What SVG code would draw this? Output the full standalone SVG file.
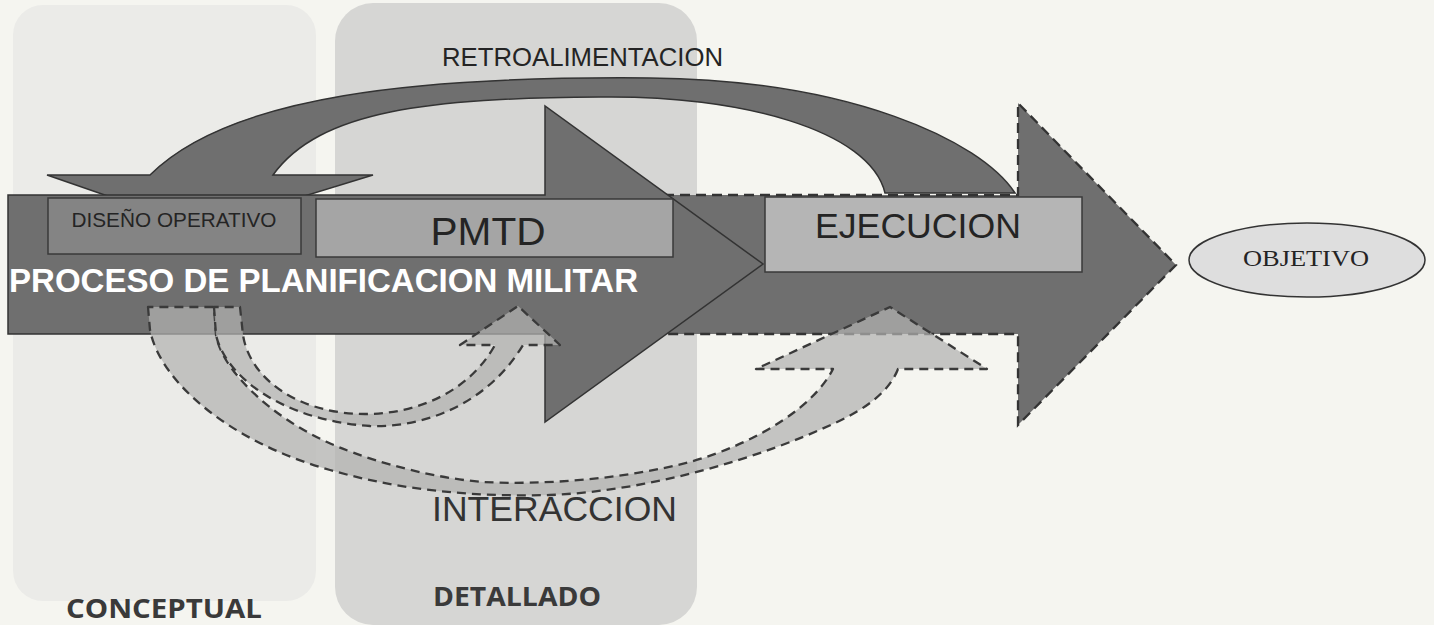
<svg xmlns="http://www.w3.org/2000/svg" width="1434" height="625" viewBox="0 0 1434 625">
  <style>
    .sans { font-family: "Liberation Sans", Arial, sans-serif; }
    .serif { font-family: "Liberation Serif", "Times New Roman", serif; }
    .calib { font-family: "Open Sans", "Noto Sans", sans-serif; font-weight: 700; fill: #3a3a3a; }
    .dark { fill: #6f6f6f; stroke: #333; stroke-width: 1.5; stroke-linejoin: miter; }
    .dashed { fill: #6f6f6f; stroke: #333; stroke-width: 2.3; stroke-dasharray: 10 6; }
    .band { fill: #b2b2b0; fill-opacity: 0.72; stroke: #3a3a3a; stroke-width: 2.3; stroke-dasharray: 9 6; stroke-linejoin: round; }
    .box { stroke: #3a3a3a; stroke-width: 1.5; }
    .lbl { fill: #242424; }
  </style>

  <rect x="0" y="0" width="1434" height="625" fill="#f5f5f0"/>

  <g id="panel-conceptual">
    <rect x="13" y="5" width="303" height="596" rx="30" ry="30" fill="#ebebe8"/>
    <text class="calib" x="66" y="618" font-size="27" textLength="196" lengthAdjust="spacingAndGlyphs">CONCEPTUAL</text>
  </g>
  <g id="panel-detallado">
    <rect x="335" y="3" width="362" height="622" rx="38" ry="38" fill="#d6d6d4"/>
    <text class="calib" x="433" y="606" font-size="27" textLength="168" lengthAdjust="spacingAndGlyphs">DETALLADO</text>
  </g>

  <g id="connectors">
    <g id="retroalimentacion">
      <path class="dark" stroke-width="1.2" fill="#6a6a6a" d="M1015,193 C980,140 850,80 650,78 C420,76 230,95 150,175 L47,175 L200,228 L373,175 L273,175 C320,110 430,98 600,97 C740,95 870,130 885,193 Z"/>
      <text class="sans lbl" x="442" y="66" font-size="25" textLength="281" lengthAdjust="spacingAndGlyphs">RETROALIMENTACION</text>
    </g>
  </g>

  <g id="proceso">
    <path class="dashed" d="M600,195 L1018,195 L1018,103 L1176,265 L1018,425 L1018,334 L600,334 Z"/>
    <path class="dark" d="M8,195 L545,195 L545,106 L763,264 L545,422 L545,334 L8,334 Z"/>
  </g>

  <g id="diseno-operativo">
    <rect class="box" x="48" y="198" width="253" height="56" fill="#848484"/>
    <text class="sans lbl" x="174" y="227" font-size="19.5" text-anchor="middle" textLength="205" lengthAdjust="spacingAndGlyphs">DISEÑO OPERATIVO</text>
  </g>
  <g id="pmtd">
    <rect class="box" x="316" y="199" width="357" height="58" fill="#a5a5a5"/>
    <text class="sans lbl" x="488" y="245" font-size="38" text-anchor="middle" textLength="115" lengthAdjust="spacingAndGlyphs">PMTD</text>
  </g>
  <g id="ejecucion">
    <rect class="box" x="765" y="197" width="317" height="75" fill="#b5b5b5"/>
    <text class="sans lbl" x="918" y="238" font-size="35" text-anchor="middle" textLength="206" lengthAdjust="spacingAndGlyphs">EJECUCION</text>
  </g>

  <g id="proceso-label">
    <text class="sans" x="9" y="292" font-size="34" font-weight="700" fill="#ffffff" textLength="629" lengthAdjust="spacingAndGlyphs">PROCESO DE PLANIFICACION MILITAR</text>
  </g>

  <g id="interaccion">
    <path class="band" d="M148,307 L150,330 C160,382 230,442 330,470 C400,490 470,497 550,495 C650,491 760,458 835,423 C868,408 890,390 898,369 L987,369 L890,307 L756,369 L833,369 C815,405 760,442 690,462 C620,480 540,485 483,482 C420,477 355,455 327,442 C270,416 222,370 216,335 L214,307 Z"/>
    <path class="band" d="M214,307 L216,335 C225,375 280,420 370,426 C430,428 490,400 523,345 L560,345 L518,306 L460,345 L495,345 C470,390 420,414 365,414 C300,414 250,380 243,335 L240,307 Z"/>
    <text class="sans" x="432" y="521" font-size="35" fill="#333" textLength="245" lengthAdjust="spacingAndGlyphs">INTERACCION</text>
  </g>

  <g id="objetivo">
    <ellipse cx="1307" cy="260" rx="118" ry="37" fill="#dedede" stroke="#333" stroke-width="1.5"/>
    <text class="serif lbl" x="1306" y="266" font-size="24" text-anchor="middle" textLength="126" lengthAdjust="spacingAndGlyphs">OBJETIVO</text>
  </g>
</svg>
